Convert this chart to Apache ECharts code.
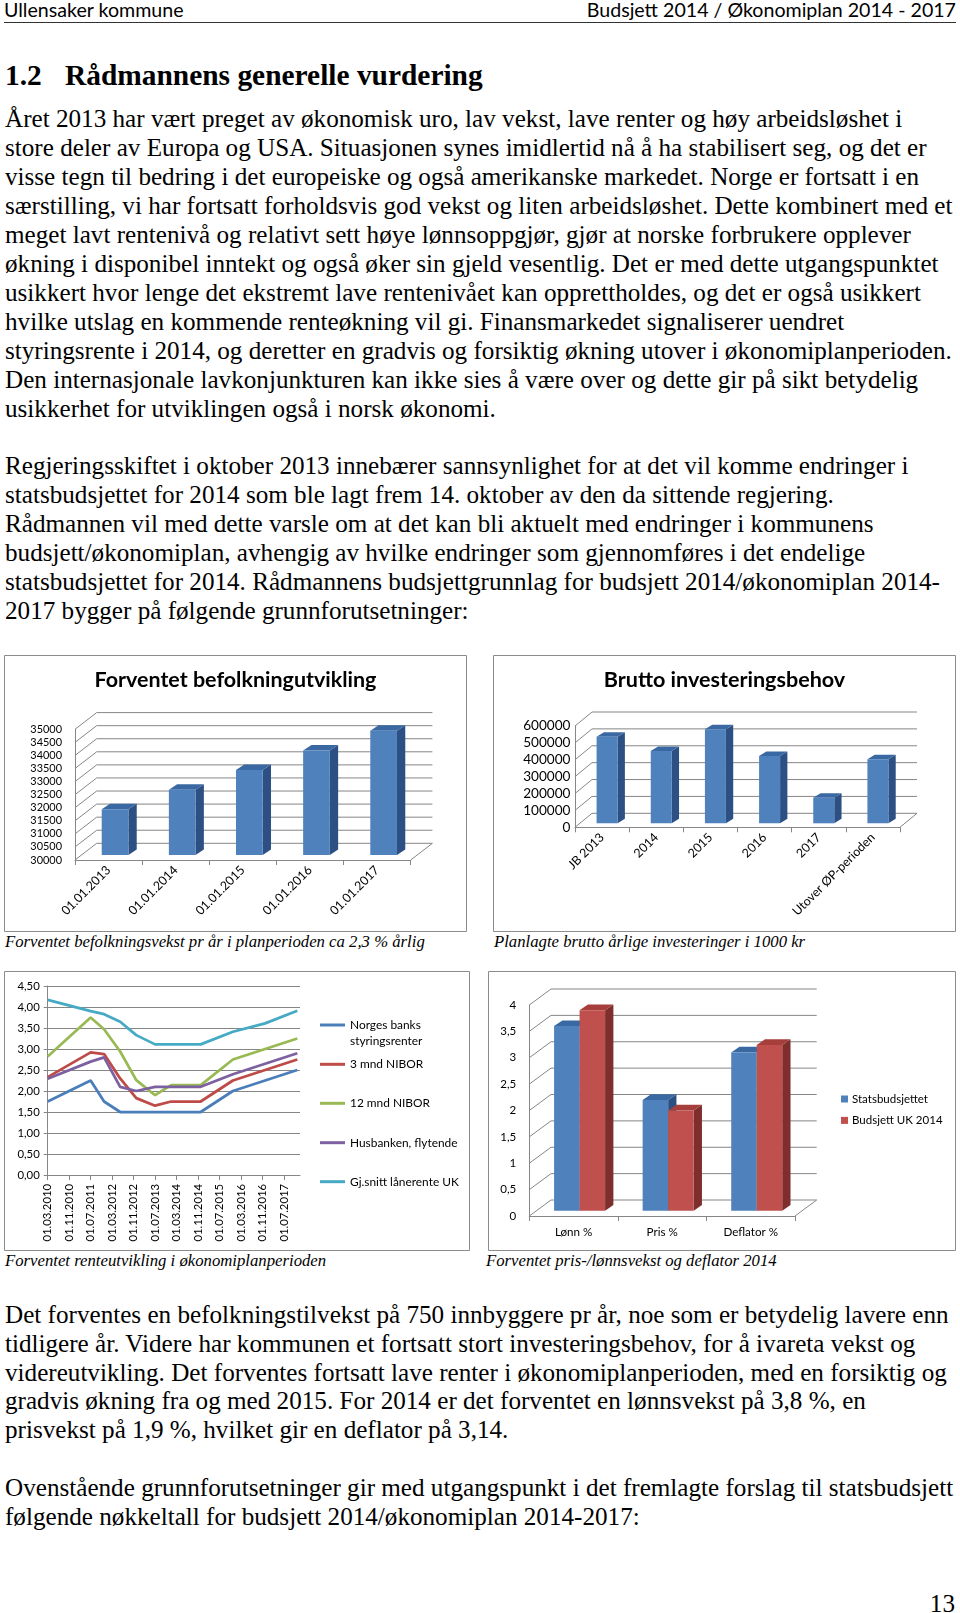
<!DOCTYPE html>
<html><head><meta charset="utf-8">
<script src="https://cdn.jsdelivr.net/npm/echarts@6/dist/echarts.min.js"></script>
<style>
html,body{margin:0;padding:0;background:#fff;}
body{width:960px;height:1613px;position:relative;overflow:hidden;}
.t{position:absolute;white-space:nowrap;color:#000;}
.ch{position:absolute;}
</style></head><body>
<div class="ch" id="c1" style="left:4px;top:655px;width:463px;height:277px"></div>
<div class="ch" id="c2" style="left:493px;top:655px;width:463px;height:277px"></div>
<div class="ch" id="c3" style="left:4px;top:971px;width:466px;height:280px"></div>
<div class="ch" id="c4" style="left:488px;top:971px;width:468px;height:280px"></div>
<script>
// ---------------- DATA ----------------
const popCategories = ['01.01.2013', '01.01.2014', '01.01.2015', '01.01.2016', '01.01.2017'];
const popValues = [31750, 32500, 33250, 34000, 34750];

const invCategories = ['JB 2013', '2014', '2015', '2016', '2017', 'Utover ØP-perioden'];
const invValues = [513000, 428000, 557000, 399000, 152000, 379000];

const rateDates = ['2010-03', '2011-07', '2011-12', '2012-06', '2012-12', '2013-07', '2014-01', '2014-12', '2015-12', '2016-12', '2017-12'];
const rateNorgesBank = [1.75, 2.25, 1.75, 1.50, 1.50, 1.50, 1.50, 1.50, 2.00, 2.25, 2.50];
const rateNibor3 = [2.33, 2.92, 2.88, 2.30, 1.83, 1.65, 1.75, 1.75, 2.25, 2.50, 2.75];
const rateNibor12 = [2.82, 3.75, 3.47, 2.94, 2.26, 1.90, 2.14, 2.14, 2.75, 3.00, 3.25];
const rateHusbanken = [2.29, 2.70, 2.80, 2.10, 2.00, 2.10, 2.10, 2.10, 2.40, 2.65, 2.90];
const rateAvgUK = [4.17, 3.90, 3.83, 3.65, 3.33, 3.11, 3.11, 3.11, 3.41, 3.61, 3.91];
const rateTickLabels = ['01.03.2010', '01.11.2010', '01.07.2011', '01.03.2012', '01.11.2012', '01.07.2013', '01.03.2014', '01.11.2014', '01.07.2015', '01.03.2016', '01.11.2016', '01.07.2017'];

const growthCategories = ['Lønn %', 'Pris %', 'Deflator %'];
const growthState = [3.5, 2.1, 3.0];
const growthUK = [3.8, 1.9, 3.14];

// ---------------- PAGE TEXT ----------------
const para1 = [
 'Året 2013 har vært preget av økonomisk uro, lav vekst, lave renter og høy arbeidsløshet i',
 'store deler av Europa og USA. Situasjonen synes imidlertid nå å ha stabilisert seg, og det er',
 'visse tegn til bedring i det europeiske og også amerikanske markedet. Norge er fortsatt i en',
 'særstilling, vi har fortsatt forholdsvis god vekst og liten arbeidsløshet. Dette kombinert med et',
 'meget lavt rentenivå og relativt sett høye lønnsoppgjør, gjør at norske forbrukere opplever',
 'økning i disponibel inntekt og også øker sin gjeld vesentlig. Det er med dette utgangspunktet',
 'usikkert hvor lenge det ekstremt lave rentenivået kan opprettholdes, og det er også usikkert',
 'hvilke utslag en kommende renteøkning vil gi. Finansmarkedet signaliserer uendret',
 'styringsrente i 2014, og deretter en gradvis og forsiktig økning utover i økonomiplanperioden.',
 'Den internasjonale lavkonjunkturen kan ikke sies å være over og dette gir på sikt betydelig',
 'usikkerhet for utviklingen også i norsk økonomi.'
];
const para2 = [
 'Regjeringsskiftet i oktober 2013 innebærer sannsynlighet for at det vil komme endringer i',
 'statsbudsjettet for 2014 som ble lagt frem 14. oktober av den da sittende regjering.',
 'Rådmannen vil med dette varsle om at det kan bli aktuelt med endringer i kommunens',
 'budsjett/økonomiplan, avhengig av hvilke endringer som gjennomføres i det endelige',
 'statsbudsjettet for 2014. Rådmannens budsjettgrunnlag for budsjett 2014/økonomiplan 2014-',
 '2017 bygger på følgende grunnforutsetninger:'
];
const para3 = [
 'Det forventes en befolkningstilvekst på 750 innbyggere pr år, noe som er betydelig lavere enn',
 'tidligere år. Videre har kommunen et fortsatt stort investeringsbehov, for å ivareta vekst og',
 'videreutvikling. Det forventes fortsatt lave renter i økonomiplanperioden, med en forsiktig og',
 'gradvis økning fra og med 2015. For 2014 er det forventet en lønnsvekst på 3,8 %, en',
 'prisvekst på 1,9 %, hvilket gir en deflator på 3,14.'
];
const para4 = [
 'Ovenstående grunnforutsetninger gir med utgangspunkt i det fremlagte forslag til statsbudsjett',
 'følgende nøkkeltall for budsjett 2014/økonomiplan 2014-2017:'
];

// ---------------- helpers ----------------
const SERIF = '"Liberation Serif","Times New Roman",serif';
const SANS = 'Lato,"Open Sans",sans-serif';
const mctx = document.createElement('canvas').getContext('2d');
function fstr(st, wt, sz, fam) { return st + ' ' + wt + ' ' + sz + 'px ' + fam; }
function fit(text, target, st, wt, fam) { mctx.font = fstr(st, wt, 100, fam); return 100 * target / mctx.measureText(text).width; }
function put(text, x, base, st, wt, sz, fam, align) {
  const d = document.createElement('div'); d.className = 't'; d.textContent = text;
  d.style.font = fstr(st, wt, sz, fam); d.style.lineHeight = sz + 'px';
  mctx.font = fstr(st, wt, sz, fam);
  const m = mctx.measureText('Hg');
  const A = m.fontBoundingBoxAscent, D = m.fontBoundingBoxDescent;
  d.style.top = (base - ((sz - (A + D)) / 2 + A)) + 'px';
  if (align === 'right') d.style.right = (960 - x) + 'px'; else d.style.left = x + 'px';
  document.body.appendChild(d);
}

// header
const hs = fit('Ullensaker kommune', 180, 'normal', 'normal', SANS);
put('Ullensaker kommune', 4, 17, 'normal', 'normal', hs, SANS);
put('Budsjett 2014 / Økonomiplan 2014 - 2017', 956, 17, 'normal', 'normal', hs, SANS, 'right');
const ul = document.createElement('div');
ul.style.cssText = 'position:absolute;left:4px;top:21.5px;width:952px;height:0;border-top:1.5px solid #333;';
document.body.appendChild(ul);
// heading
const hds = fit('Rådmannens generelle vurdering', 418, 'normal', 'bold', SERIF);
put('1.2', 5, 86, 'normal', 'bold', hds, SERIF);
put('Rådmannens generelle vurdering', 65, 86, 'normal', 'bold', hds, SERIF);
// body
const bs = (fit(para1[3], 948, 'normal', 'normal', SERIF) + fit(para1[0], 898, 'normal', 'normal', SERIF)) / 2;
para1.forEach((t, i) => put(t, 5, 127 + 29.0 * i, 'normal', 'normal', bs, SERIF));
para2.forEach((t, i) => put(t, 5, 474.5 + 29.0 * i, 'normal', 'normal', bs, SERIF));
para3.forEach((t, i) => put(t, 5, 1323 + 28.8 * i, 'normal', 'normal', bs, SERIF));
para4.forEach((t, i) => put(t, 5, 1496 + 28.8 * i, 'normal', 'normal', bs, SERIF));
put('13', 955, 1612, 'normal', 'normal', bs, SERIF, 'right');
// captions
const cs = fit('Forventet befolkningsvekst pr år i planperioden ca 2,3 % årlig', 420, 'italic', 'normal', SERIF);
put('Forventet befolkningsvekst pr år i planperioden ca 2,3 % årlig', 5, 947.5, 'italic', 'normal', cs, SERIF);
put('Planlagte brutto årlige investeringer i 1000 kr', 494, 947.5, 'italic', 'normal', cs, SERIF);
put('Forventet renteutvikling i økonomiplanperioden', 5, 1266.5, 'italic', 'normal', cs, SERIF);
put('Forventet pris-/lønnsvekst og deflator 2014', 486, 1266.5, 'italic', 'normal', cs, SERIF);

// ---------------- 3D bar chart builder ----------------
const GRID = '#868686';
function frame(w, h) {
  return [{ type: 'rect', shape: { x: 0.5, y: 0.5, width: w - 1, height: h - 1 }, style: { fill: null, stroke: '#8c8c8c', lineWidth: 1 }, silent: true }];
}
function build3D(cfg) {
  const ticks = [];
  for (let v = cfg.yMin; v <= cfg.yMax + 1e-9; v += cfg.yStep) ticks.push([0, +v.toFixed(6)]);
  const [dx, dy] = cfg.depth;
  const k = cfg.series.length;
  const series = [{
    type: 'custom', silent: true, z: 1, encode: { x: 0, y: 1 }, data: ticks,
    renderItem: function (params, api) {
      const c = params.coordSys; const v = api.value(1);
      const y = api.coord([0, v])[1];
      const x0 = c.x, x1 = c.x + c.width;
      const ch = [{ type: 'polyline', shape: { points: [[x0, y], [x0 + dx, y + dy], [x1 + dx, y + dy]] }, style: { stroke: GRID, lineWidth: 1, fill: null } }];
      if (Math.abs(v - cfg.yMin) < 1e-9) ch.push({ type: 'line', shape: { x1: x1, y1: y, x2: x1 + dx, y2: y + dy }, style: { stroke: GRID, lineWidth: 1 } });
      return { type: 'group', children: ch };
    }
  }];
  cfg.series.forEach((s, si) => {
    series.push({
      name: s.name, type: 'custom', z: 2, encode: { x: 0, y: 1 },
      itemStyle: { color: s.front },
      data: s.values.map((v, i) => [i, v]),
      renderItem: function (params, api) {
        const ci = api.value(0), v = api.value(1);
        const p = api.coord([ci, v]), b = api.coord([ci, cfg.yMin]);
        const cx = p[0] + cfg.barOff[0] + (si - (k - 1) / 2) * cfg.barW;
        const xl = cx - cfg.barW / 2, xr = cx + cfg.barW / 2;
        const yt = p[1] + cfg.barOff[1], yb = b[1] + cfg.barOff[1];
        const [bx, by] = cfg.barDepth;
        return { type: 'group', children: [
          { type: 'polygon', shape: { points: [[xr, yb], [xr + bx, yb + by], [xr + bx, yt + by], [xr, yt]] }, style: { fill: s.side } },
          { type: 'polygon', shape: { points: [[xl, yt], [xr, yt], [xr + bx, yt + by], [xl + bx, yt + by]] }, style: { fill: s.top } },
          { type: 'rect', shape: { x: xl, y: yt, width: cfg.barW, height: yb - yt }, style: { fill: s.front } }
        ] };
      }
    });
  });
  const opt = {
    animation: false,
    graphic: frame(cfg.w, cfg.h),
    grid: cfg.grid,
    xAxis: {
      type: 'category', data: cfg.cats,
      axisLine: { show: true, lineStyle: { color: GRID, width: 1 } },
      axisTick: { show: true, length: 5, lineStyle: { color: GRID } },
      axisLabel: { interval: 0, rotate: cfg.xRotate, margin: cfg.xMargin, color: '#000', fontFamily: SANS, fontSize: cfg.xSize }
    },
    yAxis: {
      type: 'value', min: cfg.yMin, max: cfg.yMax, interval: cfg.yStep,
      axisLine: { show: true, lineStyle: { color: GRID, width: 1 } },
      axisTick: { show: false },
      splitLine: { show: false },
      axisLabel: { margin: cfg.yMargin, color: '#000', fontFamily: SANS, fontSize: cfg.ySize, formatter: cfg.yFmt || (v => String(v)) }
    },
    series: series
  };
  if (cfg.title) opt.title = { text: cfg.title, left: 'center', top: cfg.titleTop, padding: 0, textStyle: { fontFamily: SANS, fontWeight: 'bold', fontSize: cfg.titleSize, color: '#000' } };
  if (cfg.legend) opt.legend = cfg.legend;
  return opt;
}
const BLUE = { front: '#4F81BD', top: '#3A68A2', side: '#2C5083' };
const RED = { front: '#C0504D', top: '#A63F3C', side: '#7E2E2C' };

// chart 1
const t1 = fit('Forventet befolkningutvikling', 282, 'normal', 'bold', SANS);
echarts.init(document.getElementById('c1')).setOption(build3D({
  w: 463, h: 277, title: 'Forventet befolkningutvikling', titleSize: t1, titleTop: 27.3 - t1 * 0.6,
  grid: { left: 71, right: 56.3, top: 74.3, bottom: 72 },
  cats: popCategories,
  series: [Object.assign({ name: 'Befolkning', values: popValues }, BLUE)],
  yMin: 30000, yMax: 35000, yStep: 500,
  depth: [21.7, -16.7], barW: 26.7, barOff: [6.5, -5], barDepth: [8.3, -5.5],
  xRotate: 45, xMargin: 8, xSize: fit('01.01.2013', 63.7, 'normal', 'normal', SANS),
  yMargin: 13, ySize: fit('35000', 31.7, 'normal', 'normal', SANS)
}));

// chart 2
const t2 = fit('Brutto investeringsbehov', 241.7, 'normal', 'bold', SANS);
echarts.init(document.getElementById('c2')).setOption(build3D({
  w: 463, h: 277, title: 'Brutto investeringsbehov', titleSize: t2, titleTop: 27.3 - t2 * 0.6,
  grid: { left: 82, right: 56, top: 71, bottom: 104.7 },
  cats: invCategories,
  series: [Object.assign({ name: 'Investering', values: invValues }, BLUE)],
  yMin: 0, yMax: 600000, yStep: 100000,
  depth: [17, -14], barW: 21, barOff: [5, -4], barDepth: [7.3, -4.5],
  xRotate: 45, xMargin: 8, xSize: fit('Utover ØP-perioden', 110.8, 'normal', 'normal', SANS),
  yMargin: 4.5, ySize: fit('600000', 47.3, 'normal', 'normal', SANS)
}));

// chart 4
const l4 = fit('Budsjett UK 2014', 90.7, 'normal', 'normal', SANS);
echarts.init(document.getElementById('c4')).setOption(build3D({
  w: 468, h: 280,
  grid: { left: 41.3, right: 161, top: 34, bottom: 35 },
  cats: growthCategories,
  series: [Object.assign({ name: 'Statsbudsjettet', values: growthState }, BLUE), Object.assign({ name: 'Budsjett UK 2014', values: growthUK }, RED)],
  yMin: 0, yMax: 4, yStep: 0.5,
  yFmt: v => String(v).replace('.', ','),
  depth: [21.7, -16], barW: 25.5, barOff: [6, -5.3], barDepth: [8.3, -5.7],
  xRotate: 0, xMargin: 10, xSize: fit('Deflator %', 54.7, 'normal', 'normal', SANS),
  yMargin: 13, ySize: fit('3,5', 16, 'normal', 'normal', SANS),
  legend: { orient: 'vertical', left: 353, top: 122, itemWidth: 7, itemHeight: 7, itemGap: 9.4, icon: 'rect', padding: 0,
    data: ['Statsbudsjettet', 'Budsjett UK 2014'], textStyle: { fontFamily: SANS, fontSize: l4, color: '#000', padding: [0, 0, 0, -1] } }
}));

// chart 3 (line)
function monthIndex(s) { const [y, m] = s.split('-').map(Number); return (y - 2010) * 12 + (m - 3); }
function tickIndex(s) { const p = s.split('.'); return (+p[2] - 2010) * 12 + (+p[1] - 3); }
const tickIdx = rateTickLabels.map(tickIndex);
const rateSeries = [
  ['Norges banks styringsrenter', rateNorgesBank, '#4A7EBB'],
  ['3 mnd NIBOR', rateNibor3, '#BE4B48'],
  ['12 mnd NIBOR', rateNibor12, '#98B954'],
  ['Husbanken, flytende', rateHusbanken, '#7D60A0'],
  ['Gj.snitt lånerente UK', rateAvgUK, '#46AAC5']
];
const lg3 = fit('Gj.snitt lånerente UK', 109, 'normal', 'normal', SANS);
const legendCenters = [54, 93.3, 132.3, 171.7, 210.7];
echarts.init(document.getElementById('c3')).setOption({
  animation: false,
  graphic: frame(466, 280),
  grid: { left: 43.7, right: 170, top: 15, bottom: 76 },
  xAxis: {
    type: 'value', min: 0, max: 94,
    axisLine: { show: true, lineStyle: { color: GRID } },
    axisTick: { show: true, length: 5, customValues: tickIdx, lineStyle: { color: GRID } },
    splitLine: { show: false },
    axisLabel: { customValues: tickIdx, rotate: 90, margin: 9, color: '#000', fontFamily: SANS,
      fontSize: fit('01.03.2010', 57.7, 'normal', 'normal', SANS),
      formatter: v => rateTickLabels[tickIdx.indexOf(v)] || '' }
  },
  yAxis: {
    type: 'value', min: 0, max: 4.5, interval: 0.5,
    axisLine: { show: true, lineStyle: { color: GRID } },
    axisTick: { show: true, length: 4, lineStyle: { color: GRID } },
    splitLine: { show: true, lineStyle: { color: GRID, width: 1 } },
    axisLabel: { margin: 8, color: '#000', fontFamily: SANS, fontSize: fit('4,50', 22.3, 'normal', 'normal', SANS),
      formatter: v => v.toFixed(2).replace('.', ',') }
  },
  legend: rateSeries.map((s, i) => ({
    data: [s[0]], left: 316, top: legendCenters[i] - (i === 0 ? 24 : 8), itemWidth: 25, itemHeight: 3, icon: 'rect', padding: 0,
    formatter: i === 0 ? '\u00a0\nNorges banks\nstyringsrenter' : '{name}',
    textStyle: { fontFamily: SANS, fontSize: lg3, color: '#000', lineHeight: 16 }
  })),
  series: rateSeries.map(s => ({
    name: s[0], type: 'line', symbol: 'none', color: s[2],
    lineStyle: { width: 2.75, color: s[2] },
    data: rateDates.map((d, i) => [monthIndex(d), s[1][i]])
  }))
});
</script>
</body></html>
